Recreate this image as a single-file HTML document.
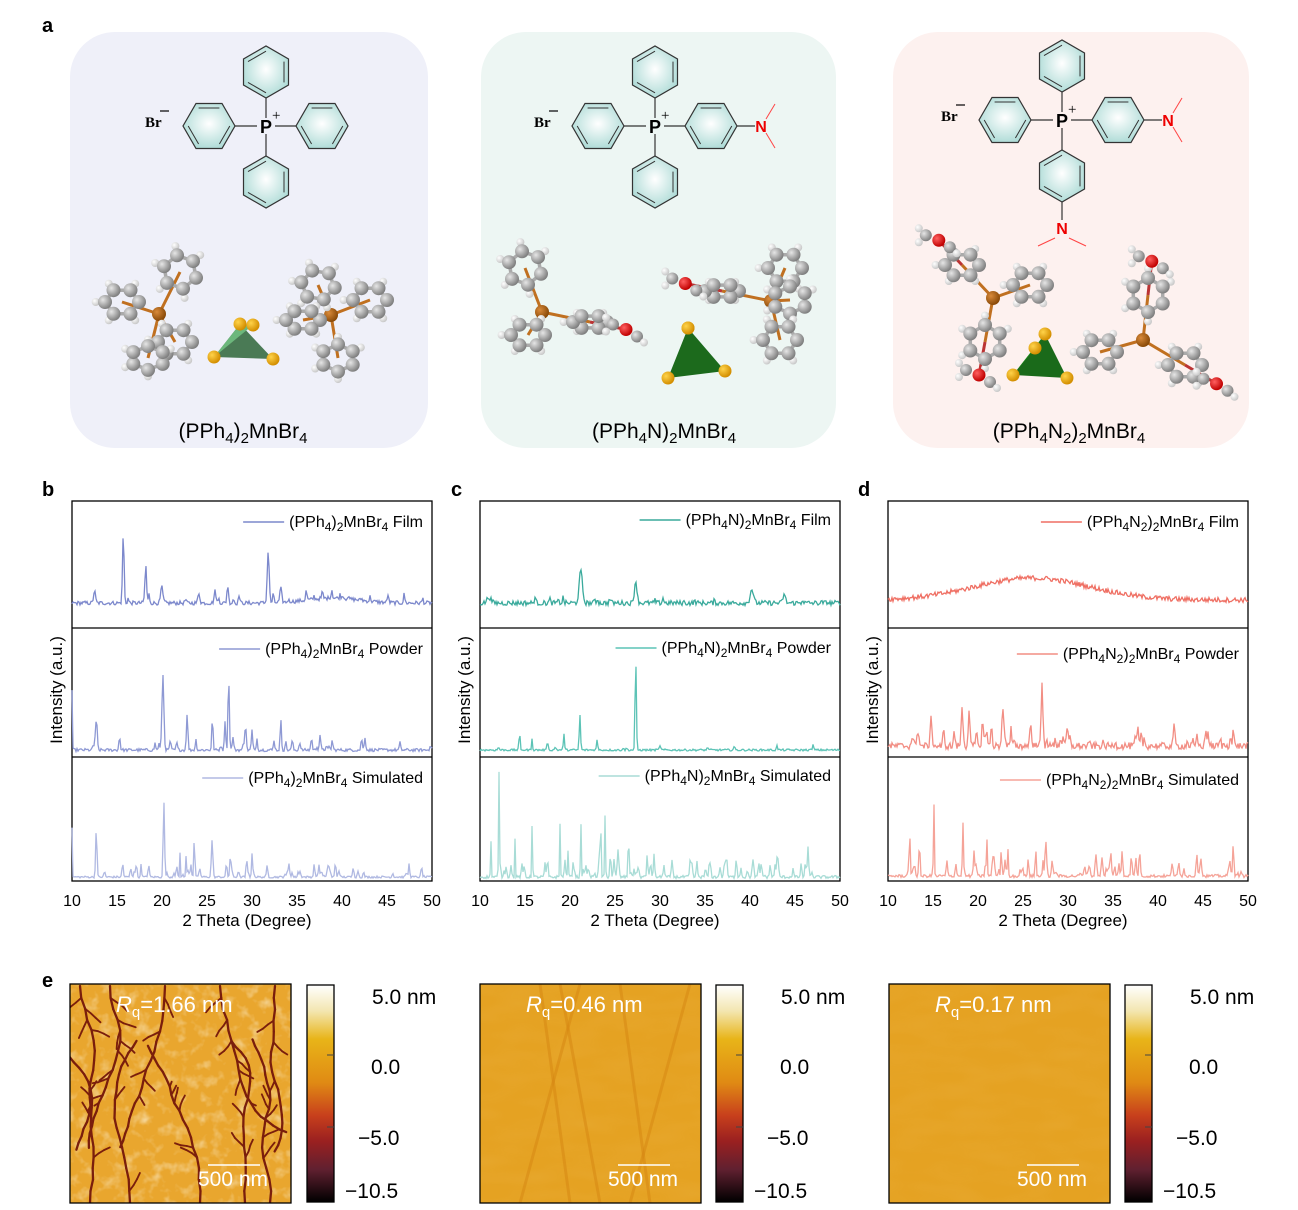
<!DOCTYPE html>
<html><head><meta charset="utf-8"><style>
html,body{margin:0;padding:0;background:#fff;}
body{width:1298px;height:1205px;overflow:hidden;font-family:"Liberation Sans",Arial,sans-serif;}
svg text{font-family:"Liberation Sans",Arial,sans-serif;}
</style></head><body>
<svg id="s" width="1298" height="1205" viewBox="0 0 1298 1205" xmlns="http://www.w3.org/2000/svg">
<defs>
<radialGradient id="hx" cx="50%" cy="45%" r="60%"><stop offset="0" stop-color="#ffffff"/><stop offset="1" stop-color="#a9d9d4"/></radialGradient>
<radialGradient id="ga" cx="35%" cy="35%" r="65%"><stop offset="0" stop-color="#e6e6e6"/><stop offset="1" stop-color="#808080"/></radialGradient>
<radialGradient id="ha" cx="35%" cy="35%" r="65%"><stop offset="0" stop-color="#ffffff"/><stop offset="1" stop-color="#c8c8c8"/></radialGradient>
<radialGradient id="ya" cx="35%" cy="35%" r="65%"><stop offset="0" stop-color="#ffd34a"/><stop offset="1" stop-color="#d38e00"/></radialGradient>
<radialGradient id="pa" cx="35%" cy="35%" r="65%"><stop offset="0" stop-color="#d98a3a"/><stop offset="1" stop-color="#8a4a08"/></radialGradient>
<radialGradient id="ra" cx="35%" cy="35%" r="65%"><stop offset="0" stop-color="#ff6060"/><stop offset="1" stop-color="#c00000"/></radialGradient>
<linearGradient id="cb" x1="0" y1="0" x2="0" y2="1">
<stop offset="0" stop-color="#ffffff"/><stop offset="0.12" stop-color="#f3e6b0"/><stop offset="0.25" stop-color="#e8b418"/><stop offset="0.45" stop-color="#e08a14"/><stop offset="0.6" stop-color="#c8401c"/><stop offset="0.72" stop-color="#9a2020"/><stop offset="0.85" stop-color="#602030"/><stop offset="1" stop-color="#000000"/></linearGradient>
<filter id="n1" x="0" y="0" width="1" height="1"><feTurbulence type="fractalNoise" baseFrequency="0.08" numOctaves="3" seed="3"/><feColorMatrix values="0 0 0 0 1  0 0 0 0 0.95  0 0 0 0 0.8  0 0 0 1.2 -0.6"/></filter>
<filter id="n2" x="0" y="0" width="1" height="1"><feTurbulence type="fractalNoise" baseFrequency="0.02 0.06" numOctaves="2" seed="7"/><feColorMatrix values="0 0 0 0 0.85  0 0 0 0 0.5  0 0 0 0 0.1  0 0 0 0.6 -0.2"/></filter>
<clipPath id="c1"><rect x="70" y="984" width="221" height="219"/></clipPath>
<clipPath id="c2"><rect x="480" y="984" width="221" height="219"/></clipPath>
<clipPath id="c3"><rect x="889" y="984" width="221" height="219"/></clipPath>
</defs>
<g id="root"></g>
</svg>
<script>
var R=document.getElementById('root'),out=[];
function A(s){out.push(s);}
var seed=12345;function rnd(){seed=(seed*1103515245+12345)%2147483648;return seed/2147483648;}
A('<text x="42" y="32" font-size="20" font-weight="bold">a</text>');
A('<text x="42" y="496" font-size="20" font-weight="bold">b</text>');
A('<text x="451" y="496" font-size="20" font-weight="bold">c</text>');
A('<text x="858" y="496" font-size="20" font-weight="bold">d</text>');
A('<text x="42" y="987" font-size="20" font-weight="bold">e</text>');
A('<rect x="70" y="32" width="358" height="416" rx="45" fill="#eff0f9"/>');
A('<rect x="481" y="32" width="355" height="416" rx="45" fill="#edf6f3"/>');
A('<rect x="893" y="32" width="356" height="416" rx="45" fill="#fdf1ef"/>');
function hexa(cx,cy,r,pointy){var p=[],q=[];for(var i=0;i<6;i++){var a=(pointy?90:0)+60*i;a*=Math.PI/180;p.push((cx+r*Math.cos(a)).toFixed(1)+','+(cy+r*Math.sin(a)).toFixed(1));q.push([cx+r*0.8*Math.cos(a),cy+r*0.8*Math.sin(a)]);}
A('<polygon points="'+p.join(' ')+'" fill="url(#hx)" stroke="#333" stroke-width="1.2"/>');
for(var i=0;i<6;i+=2){var a=q[i],b=q[(i+1)%6];A('<line x1="'+a[0]+'" y1="'+a[1]+'" x2="'+b[0]+'" y2="'+b[1]+'" stroke="#333" stroke-width="1"/>');}}
function line(x1,y1,x2,y2,c,w){A('<line x1="'+x1+'" y1="'+y1+'" x2="'+x2+'" y2="'+y2+'" stroke="'+(c||'#333')+'" stroke-width="'+(w||1.2)+'"/>');}
function struct(px,py,nr,nb){
 var r=26;
 line(px,py-8,px,py-28);line(px,py+8,px,py+30);line(px-9,py,px-33,py);line(px+9,py,px+30,py);
 hexa(px,py-54,r,true);hexa(px,py+56,r,true);hexa(px-57,py,r,false);hexa(px+56,py,r,false);
 A('<text x="'+px+'" y="'+(py+7)+'" font-size="18" font-weight="bold" text-anchor="middle">P</text>');
 A('<text x="'+(px+6)+'" y="'+(py-6)+'" font-size="15" style="font-family:Liberation Serif">+</text>');
 A('<text x="'+(px-121)+'" y="'+(py+1)+'" font-size="15" font-weight="bold" style="font-family:Liberation Serif">Br</text>');
 A('<line x1="'+(px-106)+'" y1="'+(py-15)+'" x2="'+(px-97)+'" y2="'+(py-15)+'" stroke="#000" stroke-width="1.2"/>');
 if(nr){var nx=px+106;line(px+82,py,nx-6,py);A('<text x="'+nx+'" y="'+(py+6)+'" font-size="16" font-weight="bold" fill="#e00" text-anchor="middle">N</text>');line(nx+5,py-7,nx+14,py-22,'#f44',1);line(nx+5,py+7,nx+14,py+22,'#f44',1);}
 if(nb){var ny=py+114;line(px,py+82,px,ny-14);A('<text x="'+px+'" y="'+(ny)+'" font-size="16" font-weight="bold" fill="#e00" text-anchor="middle">N</text>');line(px-7,ny+4,px-24,ny+12,'#f44',1);line(px+7,ny+4,px+24,ny+12,'#f44',1);}
}
struct(266,126,false,false);struct(655,126,true,false);struct(1062,120,true,true);
var atoms=[];
function ringB(cx,cy,r,rot,tilt){var pts=[];for(var i=0;i<6;i++){var a=(rot+60*i)*Math.PI/180;pts.push([cx+r*Math.cos(a),cy+r*Math.sin(a)*(tilt||1)]);}
 for(var i=0;i<6;i++){var a=pts[i],b=pts[(i+1)%6];line(a[0].toFixed(1),a[1].toFixed(1),b[0].toFixed(1),b[1].toFixed(1),'#aaa',3.5);
 if(i!=0){var hx=cx+(a[0]-cx)*1.55,hy=cy+(a[1]-cy)*1.55;line(a[0].toFixed(1),a[1].toFixed(1),hx.toFixed(1),hy.toFixed(1),'#ccc',2);atoms.push([hx,hy,4,'ha']);}
 atoms.push([a[0],a[1],7,'ga']);}return pts;}
function mol(px,py,rings,red){
 atoms.push([px,py,7,'pa']);
 rings.forEach(function(g){line(px,py,g[0],g[1],'#c07020',3);ringB(g[0],g[1],17,g[2],g[3]);
  if(red&&g[4]){var ox=g[0]+(g[0]-px)*0.75,oy=g[1]+(g[1]-py)*0.75;line(g[0],g[1],ox,oy,'#b33',3);atoms.push([ox,oy,6.5,'ra']);atoms.push([ox-13,oy-5,6,'ga']);atoms.push([ox+11,oy+7,6,'ga']);atoms.push([ox-20,oy-12,4,'ha']);atoms.push([ox+18,oy+13,4,'ha']);atoms.push([ox-20,oy+2,4,'ha']);}
 });}
function tet(x1,y1,x2,y2,x3,y3,x4,y4,c1,c2){A('<polygon points="'+x1+','+y1+' '+x3+','+y3+' '+x4+','+y4+'" fill="'+c2+'"/>');A('<polygon points="'+x1+','+y1+' '+x2+','+y2+' '+x3+','+y3+'" fill="'+c1+'"/>');
 [[x1,y1],[x2,y2],[x3,y3],[x4,y4]].forEach(function(p){atoms.push([p[0],p[1],6.5,'ya']);});}
function flush(){atoms.forEach(function(a){A('<circle cx="'+a[0].toFixed(1)+'" cy="'+a[1].toFixed(1)+'" r="'+a[2]+'" fill="url(#'+a[3]+')"/>');});atoms=[];}
mol(159,314,[[122,302,0,0.8],[180,272,20,1],[175,342,0,0.8],[148,358,30,0.7]]);
mol(331,315,[[370,300,0,0.8],[318,285,10,0.9],[303,320,0,0.6],[338,358,30,0.8]]);
tet(240,324,253,325,214,357,273,359,'#6cb77c','#4a7a55');
flush();
mol(542,312,[[525,268,20,1],[528,335,0,0.7],[590,322,0,0.4,1]],true);
mol(771,301,[[785,268,0,0.9],[790,300,30,0.8],[780,340,0,0.9],[722,291,0,0.4,1]],true);
tet(688,328,688,328,668,378,725,371,'#2ba82b','#1c6a1c');
flush();
mol(993,298,[[962,265,0,0.7,1],[1030,285,0,0.8],[985,342,30,1,1]],true);
mol(1143,340,[[1148,295,30,1,1],[1100,352,0,0.8],[1185,365,0,0.8,1]],true);
tet(1045,334,1035,348,1013,375,1067,378,'#20a020','#1a6a1a');
flush();
function S(t){return '<tspan font-size="15" dy="5">'+t+'</tspan>';}
function name(x,t){A('<text x="'+x+'" y="438" font-size="21" text-anchor="middle">'+t+'</text>');}
name(243,'(PPh'+S('4')+'<tspan dy="-5">)</tspan>'+S('2')+'<tspan dy="-5">MnBr</tspan>'+S('4'));
name(664,'(PPh'+S('4')+'<tspan dy="-5">N)</tspan>'+S('2')+'<tspan dy="-5">MnBr</tspan>'+S('4'));
name(1069,'(PPh'+S('4')+'<tspan dy="-5">N</tspan>'+S('2')+'<tspan dy="-5">)</tspan>'+S('2')+'<tspan dy="-5">MnBr</tspan>'+S('4'));
function spec(x0,x1,base,noise,peaks,col,hump){
 var d='',n=360;for(var i=0;i<=n;i++){var t=10+40*i/n,x=x0+(x1-x0)*i/n,v=(rnd()-0.5)*noise;
 peaks.forEach(function(p){var w=p[2]||0.15;v+=p[1]*Math.exp(-Math.pow((t-p[0])/w,2));});
 if(hump)v+=hump[1]*Math.exp(-Math.pow((t-hump[0])/hump[2],2));
 d+=(i?'L':'M')+x.toFixed(1)+','+(base-v).toFixed(1);}
 A('<path d="'+d+'" fill="none" stroke="'+col+'" stroke-width="1.3"/>');}
function randPeaks(k,maxh,ths){var a=[];for(var i=0;i<k;i++){a.push([12+rnd()*38,rnd()*maxh,0.1]);}return a.concat(ths);}
function sb(s){return '<tspan font-size="12" dy="4">'+s+'</tspan><tspan dy="-4">';}
function panel(x0,cols,specs,nm,ys){
 var x1=x0+360;
 A('<rect x="'+x0+'" y="501" width="360" height="380" fill="none" stroke="#000" stroke-width="1.3"/>');
 line(x0,628,x1,628,'#000',1.3);line(x0,757,x1,757,'#000',1.3);
 specs.forEach(function(s){spec(x0,x1,s[0],s[1],s[2],s[3],s[4]);});
 var base='(PPh'+sb('4')+nm+')</tspan>'+sb('2')+'MnBr</tspan>'+sb('4');
 ['Film','Powder','Simulated'].forEach(function(w,k){
  A('<text class="lg" data-c="'+cols[k]+'" x="'+(x0+351)+'" y="'+ys[k]+'" font-size="16" text-anchor="end">'+base+' '+w+'</tspan></text>');});
 for(var i=0;i<=8;i++){var x=x0+45*i;A('<text x="'+x+'" y="906" font-size="16" text-anchor="middle">'+(10+5*i)+'</text>');}
 A('<text x="'+(x0+175)+'" y="926" font-size="17" text-anchor="middle">2 Theta (Degree)</text>');
 A('<text transform="translate('+(x0-10)+',690) rotate(-90)" font-size="17" text-anchor="middle">Intensity (a.u.)</text>');
}
var b1='#7c88cc',b2='#8e99d4',b3='#b0b9e2';
panel(72,[b1,b2,b3],[
 [603,4,randPeaks(25,10,[[15.7,70,0.12],[18.2,38,0.12],[31.8,52,0.15],[12.5,12],[20,10,0.2],[27.3,18,0.12],[33.2,14],[24.1,10],[25.9,12]]),b1,[39,5,4]],
 [750,3,randPeaks(40,12,[[20.1,75,0.15],[27.4,75,0.1],[12.7,26,0.12],[22.8,28,0.1],[25.6,32,0.1],[33.2,30,0.1],[29.3,20,0.1],[30,20,0.1],[27,30,0.1],[10,60,0.05]]),b2],
 [877,2,randPeaks(50,14,[[20.2,75,0.1],[12.7,50,0.1],[23.6,40,0.06],[22.7,28,0.06],[22,24,0.06],[25.6,25,0.1],[27.6,22,0.1],[29.4,20,0.08],[30,22,0.08],[17.7,18,0.06],[10,50,0.03]]),b3]
],'',[527,654,783]);
var c1='#3aaa9c',c2='#5cc3b6',c3='#a8dcd6';
panel(480,[c1,c2,c3],[
 [603,5,randPeaks(20,6,[[21.2,32,0.25],[27.3,22,0.2],[40.2,14,0.25],[43.8,8,0.2],[11,6,0.3]]),c1],
 [750,2,randPeaks(10,4,[[27.3,92,0.1],[21.1,32,0.1],[14.4,22,0.06],[15.8,14,0.06],[17.5,16,0.06],[19.3,18,0.06],[23,10,0.1],[30,5,0.1],[43,4,0.1],[47,5,0.1]]),c2],
 [877,3,randPeaks(70,18,[[12.1,105,0.06],[11.2,45,0.05],[15.8,60,0.06],[13.9,40,0.05],[18.9,55,0.06],[21.2,62,0.06],[23.4,55,0.06],[23.9,62,0.06],[17.5,30,0.06],[19.8,30,0.06],[26.5,35,0.06],[28.6,30,0.06],[29.3,26,0.06]]),c3]
],'N',[525,653,781]);
var d1='#ef6f63',d2='#f28e84',d3='#f5a398';
panel(888,[d1,d2,d3],[
 [600,5,[],d1,[26,22,9]],
 [746,7,randPeaks(55,18,[[27.1,55,0.12],[14.8,25,0.15],[18.2,35,0.12],[19,30,0.12],[22.8,30,0.15],[21.5,20,0.12],[20.5,25,0.12]]),d2],
 [876,3,randPeaks(70,18,[[15.1,70,0.06],[12.4,60,0.06],[18.3,65,0.06],[13.5,50,0.06],[27.5,45,0.06],[22.6,40,0.06],[23.3,38,0.06],[25.6,30,0.06],[21,35,0.06],[26.4,42,0.06]]),d3]
],'N'+'</tspan>'+sb('2'),[527,659,785]);
function branch(x,y,ang,len,depth,w){
 if(depth<=0||len<5)return;var x2=x+Math.sin(ang)*len,y2=y+Math.cos(ang)*len;
 A('<line x1="'+x.toFixed(1)+'" y1="'+y.toFixed(1)+'" x2="'+x2.toFixed(1)+'" y2="'+y2.toFixed(1)+'" stroke="#7a1e0c" stroke-width="'+w+'" stroke-linecap="round"/>');
 branch(x2,y2,ang+(rnd()-0.5)*0.5,len*0.97,depth-1,w);
 if(rnd()<0.4)branch(x2,y2,ang+(rnd()<0.5?-1:1)*(0.5+rnd()*0.5),len*0.6,Math.min(depth-1,3),w*0.8);
}
function afm(x,cbx,rq,kind,cid){
 A('<g clip-path="url(#'+cid+')">');
 A('<rect x="'+x+'" y="984" width="221" height="219" fill="'+(kind==1?'#e9a62e':'#e5a222')+'"/>');
 if(kind==1){A('<rect x="'+x+'" y="984" width="221" height="219" filter="url(#n1)"/>');
  [[20,1203,3.1],[60,1203,3.2],[130,1203,3.1],[175,1203,3.2],[200,1203,3.05],[40,986,0.05],[95,986,-0.05],[150,986,0.1],[205,986,-0.1],[10,986,0.1]].forEach(function(b){branch(x+b[0],b[1],b[2],12,18,2.3);});
 }else{A('<rect x="'+x+'" y="984" width="221" height="219" filter="url(#n2)" opacity="0.5"/>');
  if(kind==2){[[40,1203,100,984],[120,1203,80,984],[150,1203,210,984],[60,984,90,1203],[170,1203,140,984]].forEach(function(l){A('<line x1="'+(x+l[0])+'" y1="'+l[1]+'" x2="'+(x+l[2])+'" y2="'+l[3]+'" stroke="#d68612" stroke-width="3" opacity="0.5"/>');});}}
 A('</g>');
 A('<rect x="'+x+'" y="984" width="221" height="219" fill="none" stroke="#000" stroke-width="1.3"/>');
 A('<text x="'+(x+46)+'" y="1012" font-size="22" fill="#fff"><tspan font-style="italic">R</tspan><tspan font-size="15" dy="5">q</tspan><tspan dy="-5">='+rq.toFixed(2)+' nm</tspan></text>');
 line(x+138,1165,x+190,1165,'#fff',1.5);
 A('<text x="'+(x+163)+'" y="1186" font-size="21" fill="#fff" text-anchor="middle">500 nm</text>');
 A('<rect x="'+cbx+'" y="985" width="27" height="217" fill="url(#cb)" stroke="#000" stroke-width="1.3"/>');
 [1055,1127].forEach(function(y){line(cbx+20,y,cbx+27,y,'#444',1);});
 A('<text x="'+(cbx+65)+'" y="1004" font-size="21">5.0 nm</text>');
 A('<text x="'+(cbx+64)+'" y="1074" font-size="21">0.0</text>');
 A('<text x="'+(cbx+51)+'" y="1145" font-size="21">−5.0</text>');
 A('<text x="'+(cbx+38)+'" y="1198" font-size="21">−10.5</text>');
}
afm(70,307,1.66,1,'c1');afm(480,716,0.46,2,'c2');afm(889,1125,0.17,3,'c3');
R.innerHTML=out.join('');
var L=document.querySelectorAll('text.lg'),add='';
for(var i=0;i<L.length;i++){var bb=L[i].getBBox(),yy=+L[i].getAttribute('y')-5;
 add+='<line x1="'+(bb.x-46)+'" y1="'+yy+'" x2="'+(bb.x-5)+'" y2="'+yy+'" stroke="'+L[i].getAttribute('data-c')+'" stroke-width="1.6"/>';}
R.insertAdjacentHTML('beforeend',add);
</script>
</body></html>
